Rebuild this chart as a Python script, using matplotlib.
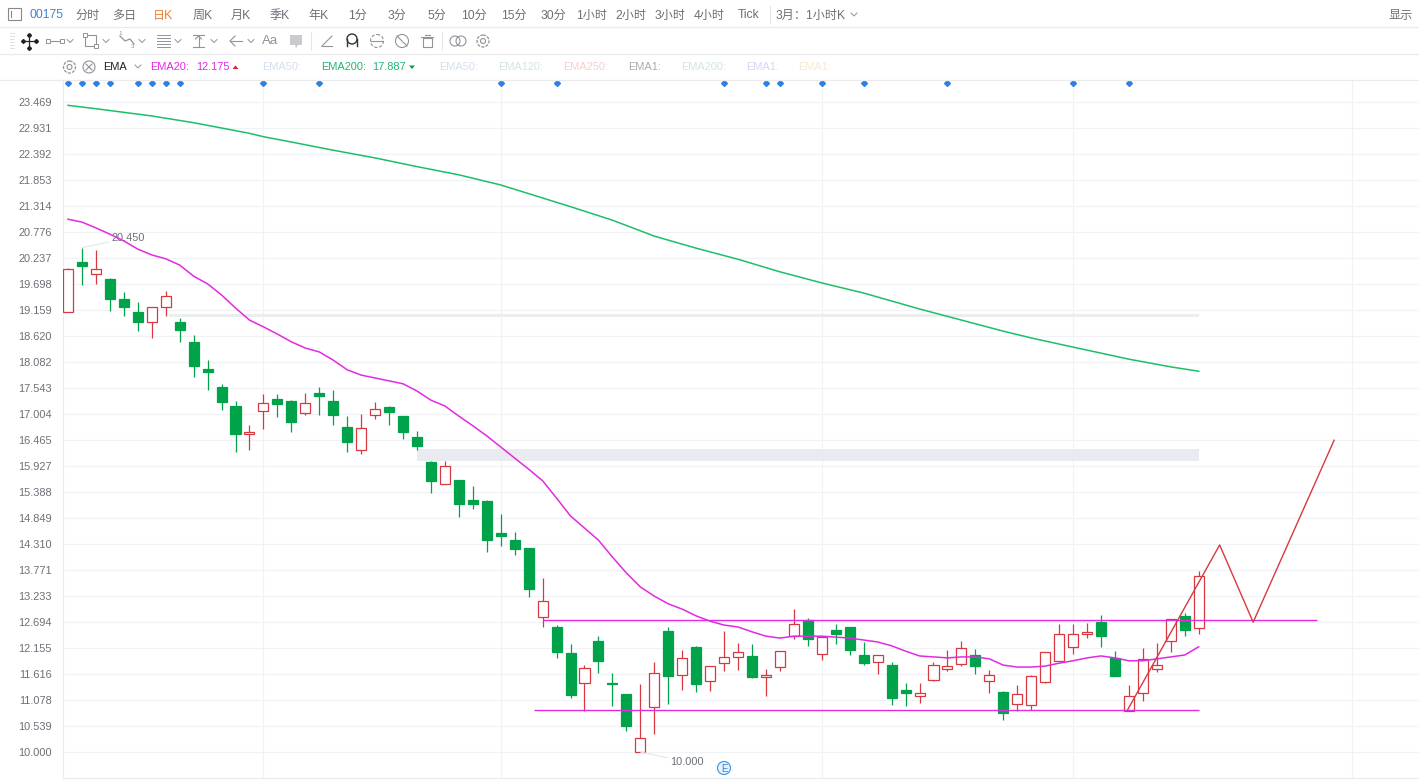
import matplotlib
matplotlib.use("Agg")
import matplotlib.pyplot as plt
from matplotlib.patches import Circle, Rectangle, Polygon

plt.rcParams['font.family'] = ['Liberation Sans', 'Noto Sans CJK SC', 'DejaVu Sans']

# candles, one per bar
opens = [19.12, 20.15, 19.90, 19.80, 19.39, 19.12, 18.91, 19.22, 18.91, 18.50, 17.94, 17.56, 17.17, 16.58,
         17.07, 17.31, 17.27, 17.02, 17.44, 17.27, 16.73, 16.26, 16.99, 17.15, 16.96, 16.53, 16.01, 15.55,
         15.64, 15.22, 15.20, 14.54, 14.39, 14.23, 12.80, 12.59, 12.05, 11.43, 12.30, 11.43, 11.20, 10.00,
         10.93, 12.51, 11.60, 12.18, 11.47, 11.84, 11.97, 11.99, 11.55, 11.76, 12.40, 12.74, 12.03, 12.53,
         12.59, 12.01, 11.86, 11.80, 11.28, 11.16, 11.49, 11.72, 11.82, 12.01, 11.47, 11.24, 10.99, 10.97,
         11.45, 11.89, 12.18, 12.45, 12.69, 11.95, 10.85, 11.22, 11.72, 12.30, 12.82, 12.57]
highs = [20.03, 20.45, 20.40, 19.82, 19.53, 19.33, 19.22, 19.55, 18.99, 18.64, 18.12, 17.63, 17.27, 16.78,
         17.42, 17.42, 17.29, 17.44, 17.56, 17.50, 16.96, 17.00, 17.25, 17.17, 16.96, 16.65, 16.03, 16.03,
         15.64, 15.51, 15.22, 14.93, 14.56, 14.23, 13.61, 12.63, 12.24, 11.80, 12.40, 11.64, 11.20, 11.41,
         11.86, 12.59, 12.11, 12.20, 11.78, 12.51, 12.26, 12.24, 11.72, 12.09, 12.96, 12.78, 12.38, 12.65,
         12.59, 12.28, 12.01, 11.86, 11.43, 11.43, 11.86, 12.11, 12.30, 12.13, 11.70, 11.26, 11.39, 11.60,
         12.07, 12.65, 12.65, 12.67, 12.84, 12.09, 11.39, 12.16, 12.26, 12.76, 12.88, 13.75]
lows = [19.12, 19.68, 19.70, 19.14, 19.03, 18.72, 18.58, 19.03, 18.50, 17.77, 17.50, 17.08, 16.22, 16.26,
        16.69, 16.94, 16.63, 16.98, 16.98, 16.78, 16.22, 16.18, 16.90, 16.78, 16.49, 16.26, 15.37, 15.55,
        14.87, 15.04, 14.14, 14.27, 14.08, 13.21, 12.59, 11.95, 11.12, 10.85, 11.64, 10.95, 10.44, 10.00,
        10.37, 10.99, 11.28, 11.24, 11.26, 11.68, 11.70, 11.53, 11.16, 11.68, 12.34, 12.20, 11.91, 12.24,
        12.01, 11.80, 11.62, 10.97, 10.95, 11.02, 11.47, 11.68, 11.78, 11.62, 11.22, 10.66, 10.85, 10.87,
        11.43, 11.89, 12.03, 12.36, 12.18, 11.57, 10.85, 11.06, 11.66, 12.07, 12.40, 12.45]
closes = [20.01, 20.07, 20.00, 19.39, 19.22, 18.91, 19.22, 19.45, 18.74, 18.00, 17.87, 17.25, 16.59, 16.63,
          17.23, 17.22, 16.84, 17.23, 17.38, 16.98, 16.42, 16.71, 17.10, 17.05, 16.63, 16.34, 15.62, 15.93,
          15.14, 15.14, 14.39, 14.48, 14.21, 13.38, 13.13, 12.07, 11.18, 11.74, 11.89, 11.41, 10.54, 10.29,
          11.64, 11.57, 11.95, 11.41, 11.78, 11.97, 12.07, 11.55, 11.60, 12.09, 12.65, 12.34, 12.38, 12.45,
          12.11, 11.84, 12.01, 11.12, 11.22, 11.22, 11.80, 11.78, 12.16, 11.78, 11.60, 10.81, 11.20, 11.57,
          12.07, 12.45, 12.45, 12.49, 12.40, 11.57, 11.16, 11.93, 11.80, 12.76, 12.53, 13.65]

ema20 = [21.04, 20.98, 20.86, 20.73, 20.59, 20.42, 20.30, 20.22, 20.09, 19.86, 19.70, 19.47, 19.20, 18.95,
         18.81, 18.66, 18.50, 18.37, 18.29, 18.12, 17.92, 17.81, 17.75, 17.69, 17.63, 17.48, 17.29, 17.17,
         16.96, 16.76, 16.55, 16.32, 16.09, 15.86, 15.62, 15.26, 14.89, 14.64, 14.39, 14.04, 13.71, 13.42,
         13.23, 13.07, 12.96, 12.82, 12.71, 12.63, 12.59, 12.49, 12.40, 12.36, 12.40, 12.40, 12.40, 12.38,
         12.36, 12.32, 12.28, 12.20, 12.09, 11.99, 11.97, 11.95, 11.97, 11.97, 11.93, 11.80, 11.76, 11.76,
         11.78, 11.84, 11.89, 11.95, 11.99, 11.95, 11.89, 11.89, 11.93, 11.97, 12.01, 12.18]

ema200_bars = [0, 2, 6, 9, 13, 14, 16, 19, 22, 25, 28, 30, 31, 34, 36, 39, 42, 45, 48, 51, 54, 57, 61, 64, 67,
               69, 72, 76, 79, 81]
ema200 = [23.40, 23.33, 23.18, 23.04, 22.82, 22.75, 22.64, 22.47, 22.31, 22.13, 21.96, 21.82, 21.75, 21.48,
          21.30, 21.02, 20.69, 20.44, 20.21, 19.95, 19.72, 19.51, 19.18, 18.95, 18.72, 18.58, 18.39, 18.14,
          17.98, 17.89]

# user drawings on the chart
resistance = 12.74
support = 10.86
zigzag_bars = [75.9, 82.5, 84.9, 90.7]
zigzag_prices = [10.87, 14.29, 12.69, 16.46]

event_bars = [0, 1, 2, 3, 5, 6, 7, 8, 14, 18, 31, 35, 47, 50, 51, 54, 57, 63, 72, 76]
grid_bars = [14, 31, 54, 72, 92]
price_ticks = [23.469, 22.931, 22.392, 21.853, 21.314, 20.776, 20.237, 19.698, 19.159, 18.620, 18.082, 17.543,
               17.004, 16.465, 15.927, 15.388, 14.849, 14.310, 13.771, 13.233, 12.694, 12.155, 11.616, 11.078,
               10.539, 10.000]

RED = '#d8383f'
GREEN = '#00a34a'
MAGENTA = '#e22ae2'
LINE_GREEN = '#1cbf68'
GRID = '#f0f2f5'
TEXT = '#6c7076'

fig = plt.figure(figsize=(14.19, 7.8), dpi=100)
ax = fig.add_axes([63 / 1419, 2 / 780, 1356 / 1419, 698 / 780])
ax.set_xlim(-0.358, 96.78)
ax.set_ylim(9.461, 23.925)

ax.set_yticks(price_ticks)
ax.set_yticklabels(['%.3f' % p for p in price_ticks], fontsize=7.9, color=TEXT)
ax.set_xticks(grid_bars)
ax.set_xticklabels([])
ax.tick_params(length=0, pad=8)
ax.grid(True, color=GRID, lw=0.9)
ax.set_axisbelow(True)
for s in ('top', 'right'):
    ax.spines[s].set_visible(False)
for s in ('left', 'bottom'):
    ax.spines[s].set_color('#e8ebef')

# grey zones
ax.fill_between([7.2, 81], 19.02, 19.08, color='#eceded', lw=0, zorder=1)
ax.fill_between([25, 81], 16.02, 16.27, color='#e9ebf0', lw=0, zorder=1)

# candles
for i in range(len(opens)):
    up = closes[i] >= opens[i]
    col = RED if up else GREEN
    ax.vlines(i, lows[i], highs[i], color=col, lw=0.9, zorder=2)
    top, bot = max(opens[i], closes[i]), min(opens[i], closes[i])
    ax.bar(i, top - bot, bottom=bot, width=0.72, facecolor='white' if up else col, edgecolor=col, lw=0.9, zorder=3)

ax.plot(range(len(ema20)), ema20, color=MAGENTA, lw=1.1, zorder=4)
ax.plot(ema200_bars, ema200, color=LINE_GREEN, lw=1.1, zorder=4)
ax.hlines(resistance, 34, 89.5, color=MAGENTA, lw=1.0, zorder=4)
ax.hlines(support, 33.4, 81, color=MAGENTA, lw=1.0, zorder=4)
ax.plot(zigzag_bars, zigzag_prices, color=RED, lw=1.0, zorder=5)

# event markers along the top
ax.plot(event_bars, [23.865] * len(event_bars), ls='none', marker='D', ms=3, color='#2f80e4', zorder=5, clip_on=False)

# high / low labels
ax.annotate('20.450', xy=(1, 20.45), xytext=(30, 10), textcoords='offset pixels', fontsize=7.9, color=TEXT,
            va='center', arrowprops=dict(arrowstyle='-', color='#e4e6ea', lw=0.8, shrinkA=0, shrinkB=0))
ax.annotate('10.000', xy=(41, 10.0), xytext=(30, -10), textcoords='offset pixels', fontsize=7.9, color=TEXT,
            va='center', arrowprops=dict(arrowstyle='-', color='#e4e6ea', lw=0.8, shrinkA=0, shrinkB=0))

# toolbar overlay, in screen pixels
ui = fig.add_axes([0, 0, 1, 1])
ui.set_xlim(0, 1419)
ui.set_ylim(780, 0)
ui.axis('off')
ui.patch.set_alpha(0)

for yy in (27, 54, 80):
    ui.plot([0, 1419], [yy, yy], color='#ebebeb', lw=0.9)

ICON = '#90949a'


def chevron(x, y, c='#90949a'):
    ui.plot([x - 3, x, x + 3], [y - 1.5, y + 1.5, y - 1.5], color=c, lw=0.7)


def label(x, y, s, c=TEXT, fs=8.7):
    ui.text(x, y, s, color=c, fontsize=fs, ha='center', va='center')


tabs = [('分时', 88), ('多日', 124), ('周K', 203), ('月K', 241), ('季K', 280), ('年K', 319), ('1分', 358), ('3分', 397),
        ('5分', 437), ('10分', 474), ('15分', 514), ('30分', 553), ('1小时', 592), ('2小时', 631), ('3小时', 670),
        ('4小时', 709), ('Tick', 749), ('3月：1小时K', 811), ('显示', 1401)]
for s, x in tabs:
    label(x, 15.5, s)
label(163, 15.5, '日K', c='#e8813a')
label(47, 15, '00175', c='#4a80d0')
ui.add_patch(Rectangle((7.5, 8), 13, 12, fill=False, ec='#888888', lw=0.8))
ui.plot([11, 11], [11, 17], color='#888888', lw=0.8)
chevron(854, 14.5)
ui.plot([770, 770], [6, 23], color='#e4e4e4', lw=0.8)

# drawing tools row
for yy in range(33, 51, 3):
    ui.plot([10, 14], [yy, yy], color='#e2e2e2', lw=0.7)
ui.plot([29, 29], [35, 47], color='#222222', lw=0.9)
ui.plot([23, 35], [41, 41], color='#222222', lw=0.9)
ui.plot([29, 29], [34.5, 47.5], ls='none', marker='D', ms=2, color='#222222')
ui.plot([22.5, 35.5], [41, 41], ls='none', marker='D', ms=2, color='#222222')
ui.plot([48, 62], [41, 41], color=ICON, lw=0.8, marker='s', ms=3, mfc='white', mec=ICON, mew=0.7)
ui.add_patch(Rectangle((85, 35), 11, 11, fill=False, ec=ICON, lw=0.8))
ui.plot([85, 96], [35, 46], ls='none', marker='s', ms=2.5, mfc='white', mec=ICON, mew=0.7)
ui.plot([120, 125, 130, 134], [36, 41, 39, 44], color=ICON, lw=0.9)
ui.text(120, 33.5, '1', fontsize=4.5, color=ICON, ha='center', va='center')
ui.text(133, 47, '3', fontsize=4.5, color=ICON, ha='center', va='center')
for yy in (35, 38, 41, 44, 47):
    ui.plot([157, 170], [yy, yy], color=ICON, lw=0.7)
ui.plot([193, 204], [35, 35], color=ICON, lw=0.8)
ui.plot([193, 204], [47, 47], color=ICON, lw=0.8)
ui.plot([198.5, 198.5], [36, 47], color=ICON, lw=0.8)
ui.plot([195.5, 198.5, 201.5], [39, 36, 39], color=ICON, lw=0.8)
ui.plot([235, 230, 235], [36, 41, 46], color=ICON, lw=0.8)
ui.plot([230, 242], [41, 41], color=ICON, lw=0.8)
for x in (70, 106, 142, 178, 214, 251):
    chevron(x, 41)
ui.text(270.5, 41.5, 'Aa', fontsize=9.5, color=ICON, ha='center', va='center')
ui.add_patch(Polygon([(290, 35), (302, 35), (302, 45), (298, 45), (296, 48), (295, 45), (290, 45)], fc='#c8cacd', ec='none'))
ui.plot([311, 311], [32, 50], color='#e6e6e6', lw=0.8)
ui.plot([322, 332], [46, 46], color=ICON, lw=0.8)
ui.plot([322, 332], [46, 36], color=ICON, lw=0.8)
ui.plot([347, 347], [46, 39], color='#333333', lw=1.0)
ui.plot([357, 357], [46, 39], color='#333333', lw=1.0)
ui.add_patch(Circle((352, 39), 5, fill=False, ec='#333333', lw=1.0))
ui.add_patch(Circle((377, 41), 6.5, fill=False, ec=ICON, lw=0.8, ls=(0, (3, 1.5))))
ui.plot([371, 383], [41, 41], color=ICON, lw=0.8)
ui.add_patch(Circle((402, 41), 6.5, fill=False, ec=ICON, lw=0.8))
ui.plot([397, 407], [36, 46], color=ICON, lw=0.8)
ui.add_patch(Rectangle((422.5, 38), 9, 9, fill=False, ec=ICON, lw=0.8))
ui.plot([421, 433], [37, 37], color=ICON, lw=0.8)
ui.plot([425, 430], [35, 35], color=ICON, lw=0.8)
ui.plot([442, 442], [32, 50], color='#e6e6e6', lw=0.8)
ui.add_patch(Circle((455, 41), 5, fill=False, ec=ICON, lw=0.8))
ui.add_patch(Circle((461, 41), 5, fill=False, ec=ICON, lw=0.8))
ui.add_patch(Circle((483, 41), 2.5, fill=False, ec=ICON, lw=0.8))
ui.add_patch(Circle((483, 41), 6, fill=False, ec=ICON, lw=0.9, ls=(0, (2.5, 1))))

# indicator legend row
ui.add_patch(Circle((69.5, 67), 2.5, fill=False, ec=ICON, lw=0.8))
ui.add_patch(Circle((69.5, 67), 6, fill=False, ec=ICON, lw=0.9, ls=(0, (2.5, 1))))
ui.add_patch(Circle((89, 67), 6, fill=False, ec=ICON, lw=0.8))
ui.plot([86, 92], [64, 70], color=ICON, lw=0.8)
ui.plot([86, 92], [70, 64], color=ICON, lw=0.8)
label(115, 67, 'EMA', c='#222222', fs=7.9)
chevron(138, 66.5)
legend = [('EMA20:', 170, MAGENTA), ('12.175', 212.5, MAGENTA), ('EMA50:', 281.5, '#d3dff2'), ('EMA200:', 344, '#22b573'),
          ('17.887', 389, '#22b573'), ('EMA50:', 459, '#d3dff2'), ('EMA120:', 521, '#cfe8dc'), ('EMA250:', 585.5, '#f7cfcf'),
          ('EMA1:', 645, '#a9abae'), ('EMA200:', 703.5, '#cfe8dc'), ('EMA1:', 763, '#dcd2f2'), ('EMA1:', 815, '#f8e8d4')]
for s, x, c in legend:
    label(x, 67.5, s, c=c, fs=7.9)
ui.add_patch(Polygon([(232.5, 69), (238.5, 69), (235.5, 65.5)], fc='#e0202a', ec='none'))
ui.add_patch(Polygon([(409, 65.5), (415, 65.5), (412, 69)], fc='#109a4a', ec='none'))

# earnings badge
ui.add_patch(Circle((724, 768), 6.5, fc='#e8f2fd', ec='#4a9be8', lw=0.9))
ui.text(724, 768.5, 'E', fontsize=7, color='#2f80e4', ha='center', va='center')

fig.savefig('out.png', dpi=100)
